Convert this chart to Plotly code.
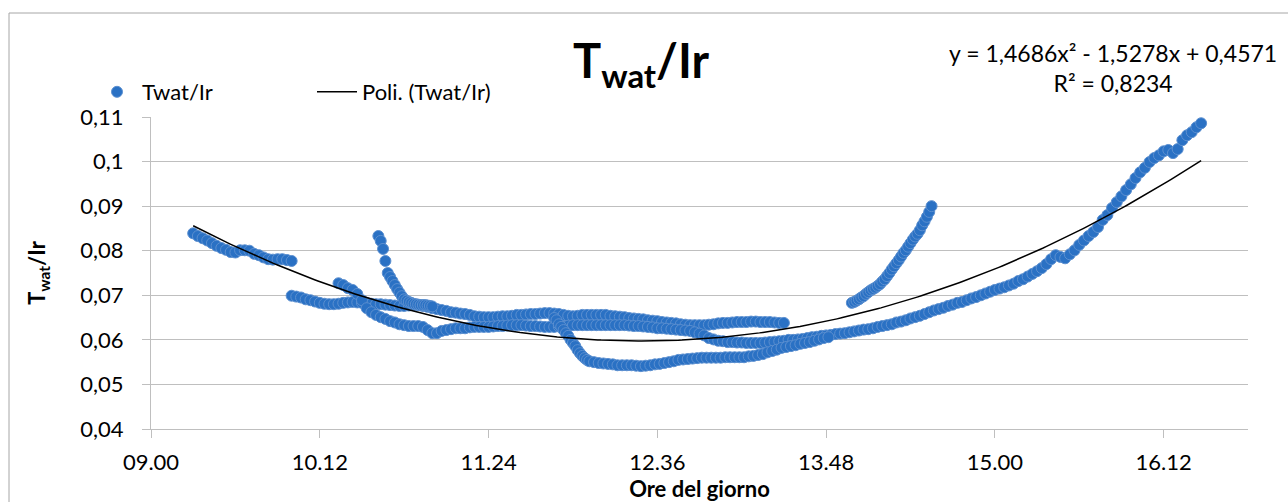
import numpy as np
import plotly.graph_objects as go

# ---------------- data (time of day, Twat/Ir) ----------------
# each block: start clock time, sampling step (minutes), measured values
seg_a_start, seg_a_step = "09:18", 2
seg_a_vals = [0.0839, 0.0833, 0.0828, 0.0823, 0.0817, 0.0811, 0.0806, 0.0802, 0.0797, 0.0796,
              0.0801, 0.0801, 0.0800, 0.0793, 0.0790, 0.0785, 0.0781, 0.0780, 0.0781, 0.0781,
              0.0779, 0.0777]

seg_b_start, seg_b_step = "10:00", 2
seg_b_vals = [0.0699, 0.0697, 0.0695, 0.0691, 0.0689, 0.0686, 0.0683, 0.0681, 0.0680, 0.0680,
              0.0681, 0.0683, 0.0684, 0.0685, 0.0684, 0.0683, 0.0683, 0.0681, 0.0680, 0.0680,
              0.0679, 0.0678, 0.0677, 0.0676, 0.0676, 0.0677, 0.0678, 0.0678, 0.0676, 0.0674,
              0.0671, 0.0669, 0.0667, 0.0665, 0.0662, 0.0661, 0.0659, 0.0658, 0.0656, 0.0653,
              0.0652, 0.0651, 0.0651, 0.0651, 0.0652, 0.0653, 0.0653, 0.0654, 0.0656, 0.0656,
              0.0657, 0.0658, 0.0658, 0.0659, 0.0660, 0.0660, 0.0659, 0.0658, 0.0656, 0.0654,
              0.0653, 0.0654, 0.0656, 0.0656, 0.0656, 0.0656, 0.0656, 0.0656, 0.0654, 0.0653,
              0.0652, 0.0651, 0.0649, 0.0648, 0.0647, 0.0646, 0.0644, 0.0643, 0.0642, 0.0640,
              0.0639, 0.0638, 0.0637, 0.0635, 0.0634, 0.0633, 0.0633, 0.0633, 0.0633, 0.0634,
              0.0635, 0.0637, 0.0638, 0.0638, 0.0639, 0.0640, 0.0640, 0.0640, 0.0641, 0.0641,
              0.0640, 0.0640, 0.0640, 0.0639, 0.0638, 0.0638]

seg_c_start, seg_c_step = "10:20", 2
seg_c_vals = [0.0727, 0.0723, 0.0716, 0.0712, 0.0703, 0.0689, 0.0671, 0.0662, 0.0656, 0.0651,
              0.0647, 0.0642, 0.0639, 0.0635, 0.0633, 0.0631, 0.0631, 0.0631, 0.0629, 0.0622,
              0.0615, 0.0615, 0.0620, 0.0622, 0.0624, 0.0626, 0.0626, 0.0626, 0.0628, 0.0629,
              0.0629, 0.0629, 0.0629, 0.0630, 0.0631, 0.0631, 0.0632, 0.0633, 0.0633, 0.0633,
              0.0632, 0.0631, 0.0631, 0.0630, 0.0629, 0.0629, 0.0629, 0.0630, 0.0631, 0.0632,
              0.0633, 0.0633, 0.0633, 0.0633, 0.0633, 0.0633, 0.0633, 0.0633, 0.0633, 0.0633,
              0.0633, 0.0633, 0.0632, 0.0631, 0.0631, 0.0630, 0.0629, 0.0628, 0.0626, 0.0626,
              0.0625, 0.0624, 0.0623, 0.0622, 0.0621, 0.0620, 0.0617, 0.0614, 0.0610, 0.0604,
              0.0601, 0.0598, 0.0597, 0.0595, 0.0595, 0.0594, 0.0594, 0.0593, 0.0593, 0.0593,
              0.0593, 0.0594, 0.0595, 0.0596, 0.0597, 0.0598, 0.0600, 0.0600, 0.0601, 0.0602,
              0.0604, 0.0606, 0.0607, 0.0609, 0.0610, 0.0611, 0.0613, 0.0614, 0.0615, 0.0617,
              0.0619, 0.0621, 0.0623, 0.0624, 0.0626, 0.0629, 0.0631, 0.0633, 0.0635, 0.0639,
              0.0641, 0.0644, 0.0648, 0.0651, 0.0654, 0.0658, 0.0662, 0.0666, 0.0669, 0.0672,
              0.0676, 0.0679, 0.0683, 0.0685, 0.0689, 0.0693, 0.0696, 0.0700, 0.0704, 0.0708,
              0.0712, 0.0715, 0.0718, 0.0722, 0.0726, 0.0732, 0.0736, 0.0742, 0.0748, 0.0754,
              0.0761, 0.0770, 0.0781, 0.0790, 0.0786, 0.0783, 0.0792, 0.0801, 0.0813, 0.0823,
              0.0833, 0.0842, 0.0853, 0.0869, 0.0880, 0.0896, 0.0909, 0.0922, 0.0936, 0.0949,
              0.0963, 0.0976, 0.0986, 0.0999, 0.1008, 0.1014, 0.1023, 0.1026, 0.1019, 0.1028,
              0.1048, 0.1059, 0.1066, 0.1077, 0.1086]

seg_d_start, seg_d_step = "10:37", 1
seg_d_vals = [0.0833, 0.0822, 0.0804, 0.0777, 0.0750, 0.0741, 0.0732, 0.0723, 0.0714, 0.0706,
              0.0698, 0.0691, 0.0688, 0.0685, 0.0683, 0.0681, 0.0680, 0.0679, 0.0678, 0.0678,
              0.0678, 0.0677, 0.0676, 0.0675]

seg_e_start, seg_e_step = "11:52", 1
seg_e_vals = [0.0649, 0.0644, 0.0635, 0.0629, 0.0622, 0.0615, 0.0609, 0.0600, 0.0593, 0.0586,
              0.0577, 0.0570, 0.0564, 0.0559, 0.0555, 0.0552]

seg_f_start, seg_f_step = "12:09", 2
seg_f_vals = [0.0550, 0.0548, 0.0547, 0.0546, 0.0545, 0.0543, 0.0543, 0.0543, 0.0543, 0.0542,
              0.0541, 0.0542, 0.0543, 0.0545, 0.0546, 0.0548, 0.0550, 0.0552, 0.0555, 0.0556,
              0.0557, 0.0558, 0.0559, 0.0560, 0.0560, 0.0560, 0.0560, 0.0560, 0.0561, 0.0561,
              0.0561, 0.0561, 0.0561, 0.0563, 0.0564, 0.0566, 0.0568, 0.0572, 0.0575, 0.0578,
              0.0582, 0.0584, 0.0586, 0.0588, 0.0591, 0.0593, 0.0595, 0.0598, 0.0601, 0.0604,
              0.0606]

seg_g_start, seg_g_step = "13:59", 1
seg_g_vals = [0.0683, 0.0685, 0.0688, 0.0691, 0.0695, 0.0698, 0.0703, 0.0707, 0.0711, 0.0714,
              0.0717, 0.0721, 0.0725, 0.0731, 0.0736, 0.0743, 0.0750, 0.0758, 0.0765, 0.0772,
              0.0779, 0.0787, 0.0795, 0.0801, 0.0809, 0.0817, 0.0825, 0.0832, 0.0838, 0.0846,
              0.0857, 0.0866, 0.0876, 0.0887, 0.0900]

# polynomial trendline coefficients (as printed on the chart)
trend_coef = [1.4686, -1.5278, 0.4571]
trend_text = "y = 1,4686x² - 1,5278x + 0,4571<br>R² = 0,8234"

x_tick_vals = [0.375, 0.425, 0.475, 0.525, 0.575, 0.625, 0.675]
x_tick_labels = ["09.00", "10.12", "11.24", "12.36", "13.48", "15.00", "16.12"]

# ---------------- build ----------------
def day_fraction(start, step, n):
    h, m = map(int, start.split(":"))
    t0 = h * 60 + m
    return [(t0 + step * i) / 1440.0 for i in range(n)]

segments = [
    (seg_a_start, seg_a_step, seg_a_vals),
    (seg_b_start, seg_b_step, seg_b_vals),
    (seg_c_start, seg_c_step, seg_c_vals),
    (seg_d_start, seg_d_step, seg_d_vals),
    (seg_e_start, seg_e_step, seg_e_vals),
    (seg_f_start, seg_f_step, seg_f_vals),
    (seg_g_start, seg_g_step, seg_g_vals),
]
xs, ys = [], []
for s, st, v in segments:
    xs += day_fraction(s, st, len(v))
    ys += v

tx = np.linspace(min(xs), max(xs), 300)
ty = np.polyval(trend_coef, tx)

GRID = "#BFBFBF"
FONT = "Lato"

fig = go.Figure()
fig.add_trace(go.Scatter(
    x=xs, y=ys, mode="markers", name="Twat/Ir",
    marker=dict(size=11, color="#2A71C4", line=dict(color="#5B8FD0", width=1)),
))
fig.add_trace(go.Scatter(
    x=tx, y=ty, mode="lines", name="Poli. (Twat/Ir)",
    line=dict(color="black", width=1.5),
))

L, R, T, B = 151, 40, 117, 73
W, H = 1288, 502
pw, ph = W - L - R, H - T - B

def px_x(p):
    return (p - L) / pw

def px_y(p):
    return (H - B - p) / ph

fig.update_layout(
    width=W, height=H,
    margin=dict(l=L, r=R, t=T, b=B, pad=0, autoexpand=False),
    paper_bgcolor="white", plot_bgcolor="white",
    separators=",.",
    font=dict(family=FONT, size=22, color="black"),
    showlegend=True,
    legend=dict(
        orientation="h", x=px_x(92), y=px_y(92), xanchor="left", yanchor="middle",
        font=dict(family=FONT, size=22, color="black"),
        bgcolor="rgba(0,0,0,0)", borderwidth=0,
        entrywidth=165, entrywidthmode="pixels", itemwidth=40,
        traceorder="normal",
    ),
    xaxis=dict(
        range=[0.375, 0.7], tickvals=x_tick_vals, ticktext=x_tick_labels,
        automargin=False,
        showgrid=False, zeroline=False, showline=True, linecolor=GRID, linewidth=1,
        ticks="outside", ticklen=8, tickcolor=GRID, tickwidth=1,
        tickfont=dict(family=FONT, size=22), ticklabelstandoff=6,
        title=dict(text="<b>Ore del giorno</b>", font=dict(family=FONT, size=22), standoff=4),
    ),
    yaxis=dict(
        range=[0.04, 0.11], tick0=0.04, dtick=0.01,
        automargin=False,
        showgrid=True, gridcolor=GRID, gridwidth=1, zeroline=False,
        showline=True, linecolor=GRID, linewidth=1,
        ticks="outside", ticklen=8, tickcolor=GRID, tickwidth=1,
        tickfont=dict(family=FONT, size=22), ticklabelstandoff=14,
        title=dict(text="<b>T<sub>wat</sub>/Ir</b>", font=dict(family=FONT, size=22), standoff=28),
    ),
    annotations=[
        dict(text="<b>T<sub>wat</sub>/Ir</b>", xref="paper", yref="paper",
             x=px_x(641), y=px_y(64), xanchor="center", yanchor="middle",
             showarrow=False, font=dict(family=FONT, size=47, color="black")),
        dict(text=trend_text, xref="paper", yref="paper",
             x=px_x(1113), y=px_y(68), xanchor="center", yanchor="middle", align="center",
             showarrow=False, font=dict(family=FONT, size=23, color="black")),
    ],
    shapes=[
        dict(type="line", xref="paper", yref="paper", x0=px_x(9), x1=px_x(9),
             y0=px_y(13), y1=px_y(510), line=dict(color="#A6A6A6", width=1)),
        dict(type="line", xref="paper", yref="paper", x0=px_x(9), x1=px_x(1295),
             y0=px_y(13), y1=px_y(13), line=dict(color="#A6A6A6", width=1)),
    ],
)

fig.write_html("out.html")
